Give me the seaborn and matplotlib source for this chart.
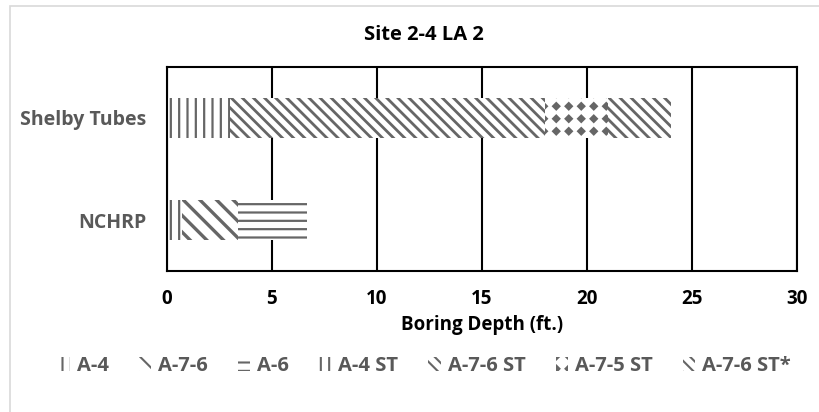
import numpy as np
import pandas as pd
import matplotlib
matplotlib.use("Agg")
import matplotlib.pyplot as plt
from matplotlib.patches import Patch, Rectangle
from matplotlib import hatch as mhatch
from matplotlib.path import Path
import seaborn as sns

categories = ["Shelby Tubes", "NCHRP"]
series = ["A-4", "A-7-6", "A-6", "A-4 ST", "A-7-6 ST", "A-7-5 ST", "A-7-6 ST*"]
values = {
    "A-4":       [0.0, 0.7],
    "A-7-6":     [0.0, 2.7],
    "A-6":       [0.0, 3.25],
    "A-4 ST":    [3.0, 0.0],
    "A-7-6 ST":  [15.0, 0.0],
    "A-7-5 ST":  [3.0, 0.0],
    "A-7-6 ST*": [3.0, 0.0],
}
xticks = [0, 5, 10, 15, 20, 25, 30]
title = "Site 2-4 LA 2"
xlabel = "Boring Depth (ft.)"


# aligned grid of filled diamonds, used in place of the star hatch ('*')
class DiamondGrid(mhatch.HatchPatternBase):
    def __init__(self, hatch, density):
        self.n = hatch.count('*') * 8
        self.poly = Path.unit_regular_polygon(4)
        self.num_vertices = self.n * self.n * len(self.poly.vertices)

    def set_vertices_and_codes(self, vertices, codes):
        n = self.n
        pv = self.poly.vertices * 0.032
        pc = self.poly.codes
        m = len(pv)
        k = 0
        for i in range(n):
            for j in range(n):
                vertices[k:k + m] = pv + [(i + 0.5) / n, (j + 0.5) / n]
                codes[k:k + m] = pc
                k += m


mhatch._hatch_types = [h for h in mhatch._hatch_types if h is not mhatch.Stars] + [DiamondGrid]

hatches = {
    "A-4": "||",
    "A-7-6": "\\\\",
    "A-6": "--",
    "A-4 ST": "||",
    "A-7-6 ST": "\\\\\\",
    "A-7-5 ST": "*",
    "A-7-6 ST*": "\\\\\\",
}
hatch_lw = {
    "A-4": 1.6, "A-7-6": 2.4, "A-6": 1.6, "A-4 ST": 1.6,
    "A-7-6 ST": 2.0, "A-7-5 ST": 1.5, "A-7-6 ST*": 2.0,
}
HC = "#666666"
TXT = "#595959"

sns.set_theme(style="white")
plt.rcParams["font.family"] = ["Open Sans", "DejaVu Sans"]
plt.rcParams["font.weight"] = "bold"

fig = plt.figure(figsize=(8.2, 4.12), dpi=100)
ax = fig.add_axes([167/820, 1-271/412, (797-167)/820, (271-67)/412])

left = np.zeros(len(categories))
for s in series:
    plt.rcParams["hatch.linewidth"] = hatch_lw[s]
    df = pd.DataFrame({"cat": categories, "val": values[s]})
    sns.barplot(data=df, x="val", y="cat", orient="y", left=left, ax=ax,
                color="white", edgecolor=HC, linewidth=0, hatch=hatches[s],
                width=0.4, errorbar=None)
    left = left + np.array(values[s])

ax.set_xlim(0, 30)
ax.set_ylim(1.5, -0.5)
ax.set_xticks(xticks)
ax.set_xticklabels([str(t) for t in xticks], fontsize=13.5, fontweight="bold", color="black")
ax.set_yticks([0, 1])
ax.set_yticklabels(categories, fontsize=14, fontweight="bold", color=TXT)
ax.tick_params(axis="y", length=0, pad=15)
ax.tick_params(axis="x", length=0, pad=13)
ax.set_ylabel("")
ax.set_xlabel(xlabel, fontsize=13.5, fontweight="bold", color="black", labelpad=4)
for t in xticks:
    ax.axvline(t, color="black", lw=1.5, zorder=0)
for sp in ax.spines.values():
    sp.set_visible(True)
    sp.set_color("black")
    sp.set_linewidth(1.5)
ax.grid(False)

fig.text(424/820, 1-35/412, title, ha="center", va="center",
         fontsize=14.5, fontweight="bold", color="black")

handles = []
plt.rcParams["hatch.linewidth"] = 1.5
for s in series:
    handles.append(Patch(facecolor="white", edgecolor=HC, linewidth=0, hatch=hatches[s], label=s))
leg = fig.legend(handles=handles, loc="center", bbox_to_anchor=(424/820, 1-366/412),
                 ncol=7, frameon=False, handlelength=0.6, handleheight=0.7,
                 handletextpad=0.35, columnspacing=1.5, labelcolor=TXT,
                 prop={"weight": "bold", "size": 14.5})

fig.patches.append(Rectangle((10/820, -0.1), 1.2, 1-6/412+0.1, transform=fig.transFigure,
                             fill=False, edgecolor="#d9d9d9", lw=1.2))

fig.savefig("out.png", dpi=100)
